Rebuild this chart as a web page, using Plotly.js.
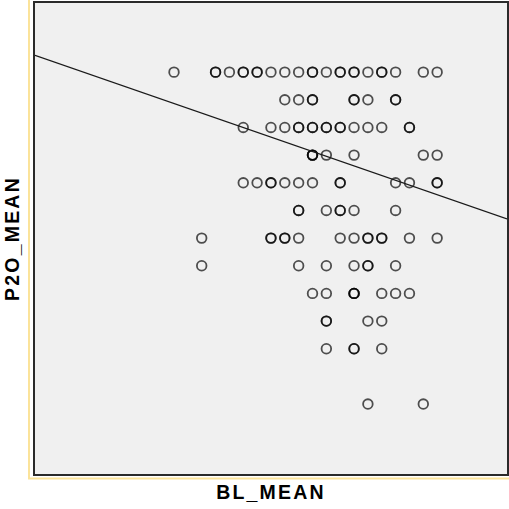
<!DOCTYPE html>
<html>
<head>
<meta charset="utf-8">
<script src="https://cdn.plot.ly/plotly-3.0.1.min.js"></script>
<style>
  html, body { margin: 0; padding: 0; background: #ffffff; }
  #chart { width: 509px; height: 509px; }
  .xtitle, .ytitle { letter-spacing: 2.2px; }
</style>
</head>
<body>
<div id="chart"></div>
<script>
// Respondent means; repeated pairs are cases that share the same values
const blMean = [
  // P2O_MEAN 4.0
  2.1, 2.4, 2.4, 2.5, 2.6, 2.6, 2.7, 2.7, 2.8, 2.9, 3.0, 3.1, 3.1, 3.2, 3.3, 3.3, 3.4, 3.4, 3.5, 3.6, 3.6, 3.7, 3.9, 4.0,
  // 3.9
  2.9, 3.0, 3.1, 3.1, 3.4, 3.4, 3.5, 3.7, 3.7,
  // 3.8
  2.6, 2.8, 2.9, 3.0, 3.0, 3.1, 3.1, 3.2, 3.2, 3.3, 3.3, 3.4, 3.5, 3.6, 3.8, 3.8,
  // 3.7
  3.1, 3.1, 3.1, 3.2, 3.4, 3.9, 4.0,
  // 3.6
  2.6, 2.7, 2.8, 2.8, 2.9, 3.0, 3.1, 3.3, 3.3, 3.7, 3.8, 4.0, 4.0,
  // 3.5
  3.0, 3.0, 3.2, 3.3, 3.3, 3.4, 3.7,
  // 3.4
  2.3, 2.8, 2.8, 2.9, 2.9, 3.0, 3.3, 3.4, 3.5, 3.5, 3.6, 3.6, 3.8, 4.0,
  // 3.3
  2.3, 3.0, 3.2, 3.4, 3.5, 3.5, 3.7,
  // 3.2
  3.1, 3.2, 3.4, 3.4, 3.4, 3.6, 3.7, 3.8,
  // 3.1
  3.2, 3.2, 3.5, 3.6,
  // 3.0
  3.2, 3.4, 3.4, 3.6,
  // 2.8
  3.5, 3.9
];
const p2oMean = [
  4.0, 4.0, 4.0, 4.0, 4.0, 4.0, 4.0, 4.0, 4.0, 4.0, 4.0, 4.0, 4.0, 4.0, 4.0, 4.0, 4.0, 4.0, 4.0, 4.0, 4.0, 4.0, 4.0, 4.0,
  3.9, 3.9, 3.9, 3.9, 3.9, 3.9, 3.9, 3.9, 3.9,
  3.8, 3.8, 3.8, 3.8, 3.8, 3.8, 3.8, 3.8, 3.8, 3.8, 3.8, 3.8, 3.8, 3.8, 3.8, 3.8,
  3.7, 3.7, 3.7, 3.7, 3.7, 3.7, 3.7,
  3.6, 3.6, 3.6, 3.6, 3.6, 3.6, 3.6, 3.6, 3.6, 3.6, 3.6, 3.6, 3.6,
  3.5, 3.5, 3.5, 3.5, 3.5, 3.5, 3.5,
  3.4, 3.4, 3.4, 3.4, 3.4, 3.4, 3.4, 3.4, 3.4, 3.4, 3.4, 3.4, 3.4, 3.4,
  3.3, 3.3, 3.3, 3.3, 3.3, 3.3, 3.3,
  3.2, 3.2, 3.2, 3.2, 3.2, 3.2, 3.2, 3.2,
  3.1, 3.1, 3.1, 3.1,
  3.0, 3.0, 3.0, 3.0,
  2.8, 2.8
];

// Linear fit line: [intercept, slope]
const fitCoef = [4.251, -0.1736];

const xRange = [1.0964, 4.5043];
const yRange = [2.5471, 4.25];

const fitX = xRange.slice();
const fitY = fitX.map(x => fitCoef[0] + fitCoef[1] * x);

const titleFont = { family: 'Liberation Sans, Arial, sans-serif', size: 19.5, weight: 'bold', color: '#000000' };

const data = [
  {
    type: 'scatter',
    mode: 'markers',
    x: blMean,
    y: p2oMean,
    marker: {
      symbol: 'circle-open',
      size: 9.6,
      color: 'rgba(0,0,0,0.68)',
      line: { width: 1.8 }
    },
    hoverinfo: 'x+y'
  },
  {
    type: 'scatter',
    mode: 'lines',
    x: fitX,
    y: fitY,
    line: { color: '#1a1a1a', width: 1.2 },
    hoverinfo: 'skip'
  }
];

const layout = {
  width: 509,
  height: 509,
  margin: { l: 35, r: 2, t: 3, b: 35 },
  paper_bgcolor: '#ffffff',
  plot_bgcolor: '#f0f0f0',
  showlegend: false,
  xaxis: {
    range: xRange,
    showgrid: false,
    zeroline: false,
    showticklabels: false,
    ticks: '',
    showline: true,
    mirror: true,
    linecolor: '#2a2a2a',
    linewidth: 2,
    title: { text: 'BL_MEAN', font: titleFont, standoff: 10 }
  },
  yaxis: {
    range: yRange,
    showgrid: false,
    zeroline: false,
    showticklabels: false,
    ticks: '',
    showline: true,
    mirror: true,
    linecolor: '#2a2a2a',
    linewidth: 2,
    title: { text: 'P2O_MEAN', font: titleFont, standoff: 8 }
  },
  shapes: [
    {
      type: 'rect',
      xref: 'paper',
      yref: 'paper',
      x0: -0.0127,
      x1: 1.05,
      y0: -0.0096,
      y1: 1.05,
      line: { color: '#fbe39a', width: 2 },
      fillcolor: 'rgba(0,0,0,0)',
      layer: 'below'
    }
  ]
};

Plotly.newPlot('chart', data, layout, { displayModeBar: false, staticPlot: true });
</script>
</body>
</html>
